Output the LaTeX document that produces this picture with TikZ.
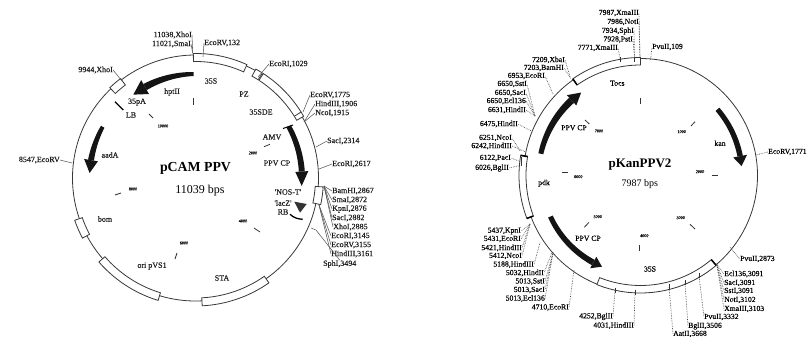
\documentclass[tikz,border=0pt]{standalone}
\usepackage{fontspec}
\setmainfont{Liberation Serif}
\newfontfamily\lblfont{Liberation Serif}[RawFeature={embolden=0.35}]
\def\cA{195.5,178}
\def\cB{640.5,175.5}
\newcommand\sect[5]{\begin{scope}[shift={(#1)}]
\draw[boxline] (#2:#5) arc[start angle=#2,end angle=#3,radius=#5 pt] -- (#3:#4) arc[start angle=#3,end angle=#2,radius=#4 pt] -- cycle;
\end{scope}}
\newcommand\tarrow[8]{\begin{scope}[shift={(#1)}]
\fill[arrowfill] plot[domain=#2:#3,samples=30] (\x:{#5+(#6+(#7-#6)*(\x-(#2))/((#3)-(#2)))/2}) -- plot[domain=#3:#2,samples=30] (\x:{#5-(#6+(#7-#6)*(\x-(#2))/((#3)-(#2)))/2}) -- cycle;
\fill[arrowfill] (#3:{#5+#8}) -- (#4:#5) -- (#3:{#5-#8}) -- cycle;
\end{scope}}
\tikzset{
  plasmid/.style={line width=0.8pt,draw=black!78},
  boxline/.style={line width=0.8pt,draw=black!78,fill=white},
  arrowfill/.style={fill=black!92},
  lbl/.style={font=\lblfont\fontsize{8}{8}\selectfont,inner sep=0pt,text=black!88},
  lblb/.style={font=\lblfont\fontsize{7.7}{8}\selectfont,inner sep=0pt,text=black},
  tiny/.style={font=\lblfont\fontsize{4.2}{5}\selectfont,inner sep=0pt},
  lead/.style={line width=0.55pt,draw=black!65},
  dot/.style={line width=0.65pt,draw=black!72,densely dotted},
  tickm/.style={line width=0.8pt,draw=black!80},
  bar/.style={line width=1.5pt,draw=black},
}
\begin{document}
\begin{tikzpicture}[x=1pt,y=1pt,yscale=-1]
\useasboundingbox (0,0) rectangle (809,337);
% ---------------- pCAM PPV
\draw[plasmid] (\cA) circle[radius=123pt];
\sect{\cA}{-91}{-65.6}{116.5}{124.5}
\sect{\cA}{-61}{-57.5}{116.5}{124.5}
\sect{\cA}{-57}{-29.7}{116.5}{124.5}
\begin{scope}[shift={(\cA)}]\draw[boxline] (-32:116.5) -- (-32:124.5);\end{scope}
\sect{\cA}{226.5}{233}{116.5}{124.5}
\sect{\cA}{4}{12}{120}{128}
\sect{\cA}{55}{87}{120}{128}
\sect{\cA}{107}{139}{120}{128}
\sect{\cA}{152}{160.7}{120}{128}
\tarrow{\cA}{-91}{-119}{-126.7}{104}{4}{7}{8}
\tarrow{\cA}{208.9}{189.7}{182.7}{106}{4}{6}{7}
\tarrow{\cA}{-28.9}{-3.5}{4.3}{106.5}{5}{6}{6.5}
\draw[line width=1pt] (283,128.5) -- (293,125);
\fill[black!80] (294.3,201.7) -- (306.7,204) -- (300,212.7) -- cycle;
\draw[line width=1.3pt] (290,214.3) .. controls (294,218) and (298,219) .. (302.7,219.3);
\draw[line width=1.3pt] (115,101.7) -- (123.3,110);
\foreach \xa/\ya/\xb/\yb in {193.3/98/193.3/105,149/114/153/118,264/146.7/270/144.3,254/228/260/232,175/259/177/253,115/195/121/193}
  \draw[tickm] (\xa,\ya) -- (\xb,\yb);
\foreach \n/\txt/\x/\y in {ta/10000/163/126,tb/2000/253/153,tc/4000/243/221,td/6000/184/243,te/8000/133/189}
  \node[tiny] (\n) at (\x,\y) {\txt};
\foreach \n/\txt/\x/\y in {fa/hptII/172/92,fb/35pA/137/102,fc/LB/131/115,fd/aadA/110/155,fe/35S/211/81,ff/PZ/244/94,fg/35SDE/261/112,fh/AMV/272/137,fi/PPV CP/277/163,fj/'NOS-T'/288/192,fk/'lacZ'/283/203,fl/RB/283/212,fm/STA/222/278,fn/ori pVS1/152/266,fo/bom/105/219}
  \node[lbl] (\n) at (\x,\y) {\txt};
\node[inner sep=0pt,font=\fontsize{13.8}{14}\selectfont\bfseries] (pcam) at (195.5,168) {pCAM PPV};
\node[inner sep=0pt,font=\fontsize{12}{12}\selectfont] (pcamb) at (200,191) {11039 bps};
% labels whose right end carries the leader
\foreach \n/\txt/\x/\y/\fx/\fy in {
 la/{11038,XhoI}/192/35/192.7/53,
 lb/{11021,SmaI}/191/44/192.7/53,
 lc/{9944,XhoI}/113/70/122/81,
 ld/{8547,EcoRV}/60/160/72/163}{
 \node[lbl,anchor=east] (\n) at (\x,\y) {\txt};
 \coordinate (\n f) at (\fx,\fy);
 \draw[lead] (\n f) -- (\n.east);}
% labels whose left end carries the leader
\foreach \n/\txt/\x/\y/\fx/\fy in {
 le/{EcoRV,132}/204/43/203/57,
 lf/{EcoRI,1029}/269/64/258/77,
 lg/{EcoRV,1775}/310/95/303/112,
 lh/{HindIII,1906}/315/104/304/122,
 li/{NcoI,1915}/315/113/304/122,
 lj/{SacI,2314}/327/141/316/147,
 lk/{EcoRI,2617}/332/164/319/169,
 ll/{BamHI,2867}/332/191/324/186,
 lm/{SmaI,2872}/332/200/324/186,
 ln/{KpnI,2876}/332/209/324/186,
 lo/{SacI,2882}/332/218/324/186,
 lp/{XhoI,2885}/333/227/324/186,
 lq/{EcoRI,3145}/331/236/319/205,
 lr/{EcoRV,3155}/331/245/319/205,
 ls/{HindIII,3161}/331/254/319/205}{
 \node[lbl,anchor=west] (\n) at (\x,\y) {\txt};
 \coordinate (\n f) at (\fx,\fy);
 \draw[lead] (\n f) -- (\n.west);}
\node[lbl,anchor=west] (lt) at (323,264) {SphI,3494};
\coordinate (ltf) at (311,228);
\coordinate (ltk) at (316,230);
\draw[lead] (ltf) -- (ltk) -- (lt.north);
% ---------------- pKanPPV2
\draw[plasmid] (\cB) circle[radius=117pt];
\sect{\cB}{-125}{-90}{110.5}{118}
\sect{\cB}{159.3}{189.7}{114.5}{121.5}
\sect{\cB}{49.9}{111.8}{110}{117.5}
\tarrow{\cB}{192.3}{227.5}{234.4}{102}{5}{7}{7}
\tarrow{\cB}{-40.7}{-11}{-5.3}{101.5}{5}{5.5}{7}
\tarrow{\cB}{155.5}{118.5}{112.9}{99}{5}{6}{6.5}
\begin{scope}[shift={(\cB)}]
\draw[bar] (-125:110.5) -- (-125:118);
\draw[bar] (189.5:114.5) -- (189.5:121.5);
\draw[bar] (159.3:114.5) -- (159.3:121.5);
\draw[bar] (49.9:110) -- (49.9:117.5);
\end{scope}
\foreach \xa/\ya/\xb/\yb in {640/98/640/104,691/126/695/121.7,712.3/175/718.3/175,690/224.3/695/229,639/245/639/250.7,589/222.3/584.3/227.3,561.7/172.7/567.7/172.7,585/120/589.3/124,
 620/57/620/62,634.3/57/634.3/62,521.5/157/521.5/166,615/288/615/293,635/290/635/295,669/284/669/289,685/280/685/285,699/273/699/278}
  \draw[tickm] (\xa,\ya) -- (\xb,\yb);
\foreach \n/\txt/\x/\y in {ua/1000/681.7/131.7,ub/2000/700/171.7,uc/3000/680.7/217.7,ud/4000/644.3/235.7,ue/5000/597.7/216.7,uf/6000/578.3/176.7,ug/7000/599/131}
  \node[tiny] (\n) at (\x,\y) {\txt};
\foreach \n/\txt/\x/\y in {ga/Tocs/617.3/83.3,gb/PPV CP/574/127.7,gc/kan/720/143.3,gd/pdk/544/183.3,ge/PPV CP/588/238.3,gf/35S/650/269}
  \node[lblb] (\n) at (\x,\y) {\txt};
\node[inner sep=0pt,font=\fontsize{13}{13}\selectfont\bfseries] (pkan) at (640,165) {pKanPPV2};
\node[inner sep=0pt,font=\fontsize{10}{10}\selectfont] (pkanb) at (639.7,184) {7987 bps};
% left-side labels: leader at right end
\foreach \n/\txt/\x/\y/\fx/\fy in {
 ma/{7987,XmaIII}/639/13/640/58,
 mb/{7986,NotI}/639/22/640/58,
 mc/{7934,SphI}/634/31/634.5/58,
 md/{7928,PstI}/633/39.5/634.5/58,
 me/{7771,XmaIII}/618/48/620/58,
 mf/{7209,XbaI}/565/60/570/76.6,
 mg/{7203,BamHI}/564/68/570.7/78.3,
 mh/{6953,EcoRI}/545/76/553/94,
 mi/{6650,SstI}/527/84/535/116,
 mj/{6650,SacI}/526/93/535/116,
 mk/{6650,Ecl136}/526/101/535/116,
 ml/{6631,HindII}/526/110/535/116,
 mn/{6475,HindII}/518/124/530.7/130.7,
 mo/{6251,NcoI}/512/138/520/150.7,
 mp/{6242,HindIII}/512/146/525/151.7,
 mq/{6122,PacI}/511/158/521.5/162,
 mr/{6026,BglII}/509/168/521.5/165,
 ms/{5437,KpnI}/521/231/530/224,
 mt/{5431,EcoRI}/521/239/530/224,
 mu/{5421,HindIII}/522/248/530/224,
 mv/{5412,NcoI}/522/256/530/224,
 mw/{5188,HindIII}/534/264.5/540/242.7,
 mx/{5032,HindII}/544/273/551.7/253,
 my/{5013,SstI}/545/281.5/553/252.7,
 mz/{5013,SacI}/545/290/553/252.7,
 na/{5013,Ecl136}/545/298.5/553/252.7,
 nb/{4710,EcoRI}/569/307.5/574/270,
 nc/{4252,BglII}/613/316.5/615/290,
 nd/{4031,HindIII}/634/325.5/635/292}{
 \node[lblb,anchor=east] (\n) at (\x,\y) {\txt};
 \coordinate (\n f) at (\fx,\fy);
 \draw[dot] (\n f) -- (\n.east);}
% right-side labels: leader at left end
\foreach \n/\txt/\x/\y/\fx/\fy in {
 oa/{PvuII,109}/652/47/650.5/60,
 ob/{EcoRV,1771}/768/152/756/155,
 oc/{PvuII,2873}/740/259/730/247.3,
 od/{Ecl136,3091}/724/274/716.7/264,
 oe/{SacI,3091}/724/283/716.7/264,
 of/{SstI,3091}/724/291/716.7/264,
 og/{NotI,3102}/724/300/716.7/264,
 oh/{XmaIII,3103}/724/309/716.7/264,
 oi/{PvuII,3332}/704/317/699/276,
 oj/{BglII,3506}/688/326/685/283,
 ok/{AatII,3668}/673/334/669/287}{
 \node[lblb,anchor=west] (\n) at (\x,\y) {\txt};
 \coordinate (\n f) at (\fx,\fy);
 \draw[dot] (\n f) -- (\n.west);}
\end{tikzpicture}
\end{document}
